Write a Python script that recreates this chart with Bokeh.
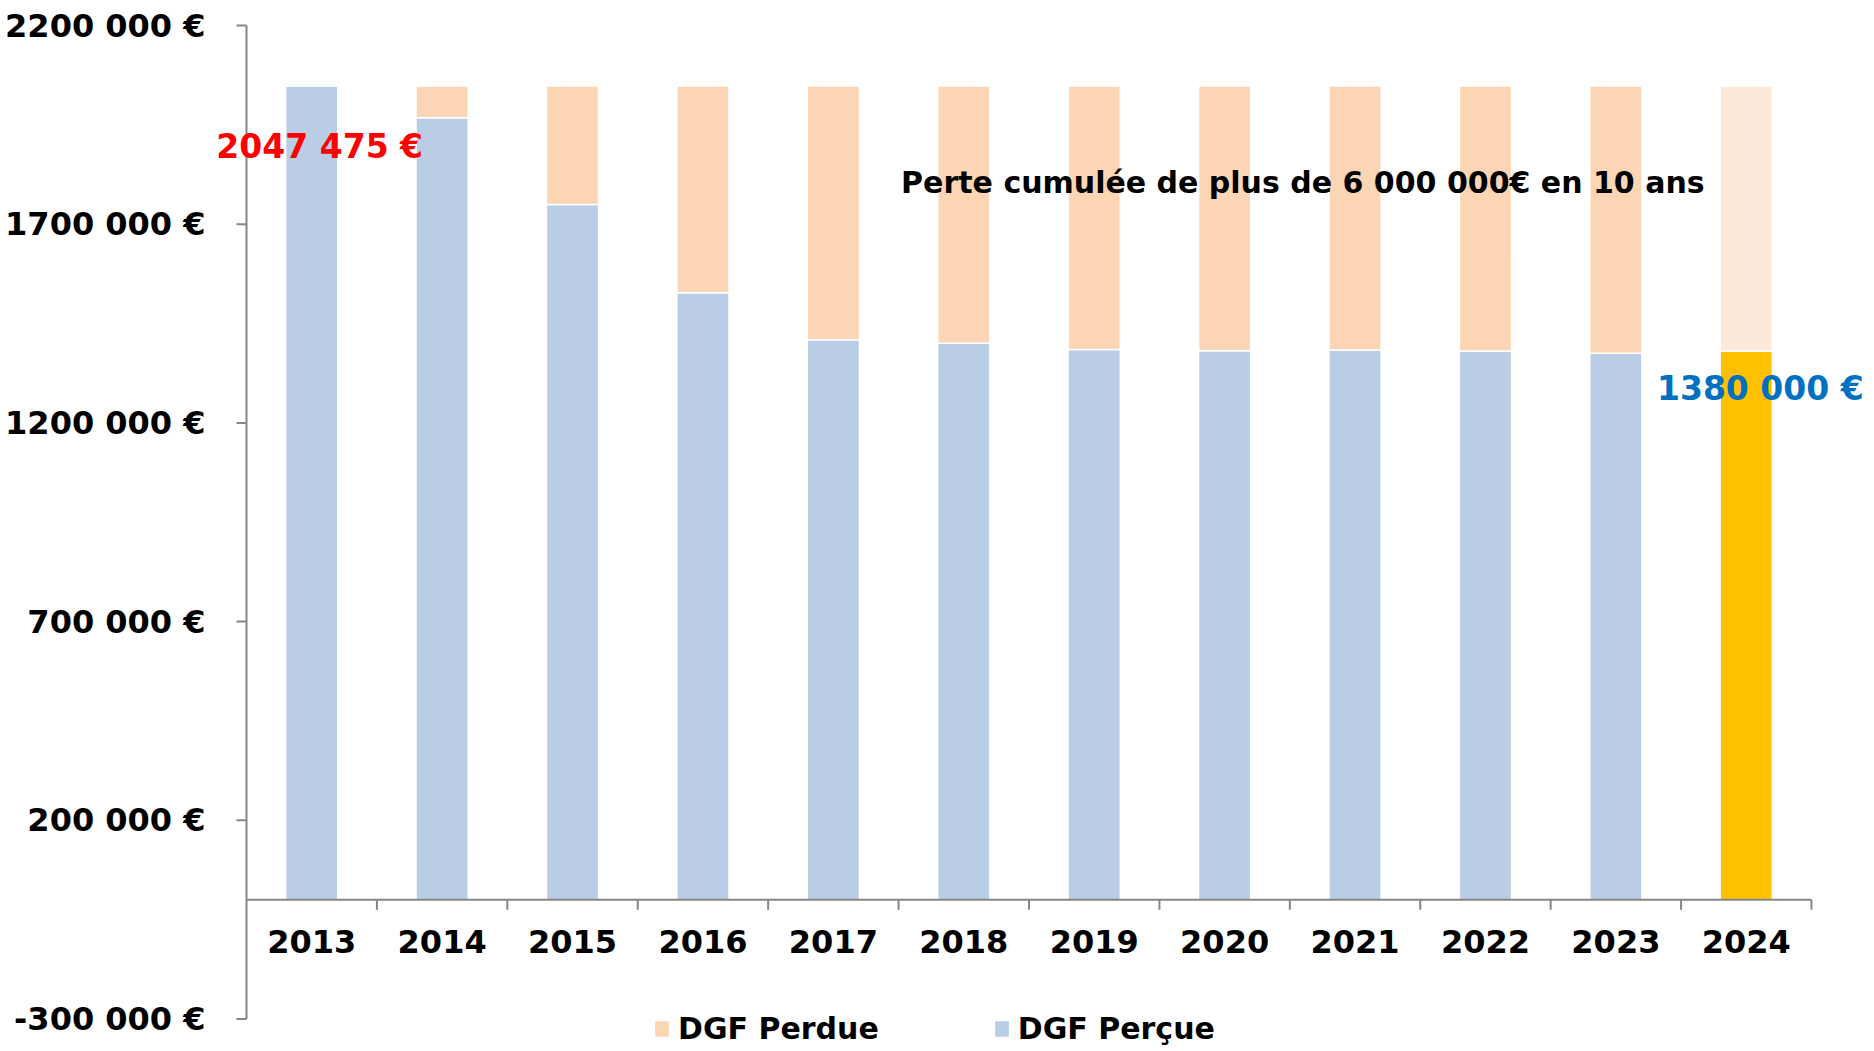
from bokeh.plotting import figure
from bokeh.models import (ColumnDataSource, Range1d, Legend, LegendItem)
from bokeh.embed import file_html
from bokeh.resources import INLINE
from bokeh.core.properties import value

# ---------------- data ----------------
years = ["2013", "2014", "2015", "2016", "2017", "2018",
         "2019", "2020", "2021", "2022", "2023", "2024"]
dgf_percue = [2047475, 1967600, 1749300, 1527800, 1409500, 1400200,
              1385000, 1381800, 1383500, 1381000, 1375000, 1380000]
dgf_perdue = [0, 79900, 298200, 519700, 638000, 647300,
              662500, 665700, 664000, 666500, 672500, 667500]
ytick_values = [-300000, 200000, 700000, 1200000, 1700000, 2200000]
ytick_labels = ["-300 000 €", "200 000 €", "700 000 €",
                "1200 000 €", "1700 000 €", "2200 000 €"]
label_start_value = 2047475
label_start_text = "2047 475 €"
label_end_value = 1380000
label_end_text = "1380 000 €"
annotation_text = "Perte cumulée de plus de 6 000 000€ en 10 ans"
annotation_pos = (8.1, 1805000)
legend_labels = ["DGF Perdue", "DGF Perçue"]

# ---------------- style ----------------
BLUE = "#B9CDE5"
PEACH = "#FCD5B5"
GOLD = "#FFC000"
LIGHT_PEACH = "#FDE9D9"
AXIS = "#868686"
FONT = "DejaVu Sans"

W, H = 1870, 1048
# pixel placement of the axes inside the canvas
X0_PX, X1_PX = 246.0, 1811.0          # x = 0 and x = 12
YTOP_PX, YBOT_PX = 25.0, 1018.5       # y = 2 200 000 and y = -300 000

n = len(years)
xs = [i + 0.5 for i in range(n)]
percue_colors = [BLUE] * (n - 1) + [GOLD]
perdue_colors = [PEACH] * (n - 1) + [LIGHT_PEACH]
totals = [a + b for a, b in zip(dgf_percue, dgf_perdue)]

px_per_x = (X1_PX - X0_PX) / n
px_per_y = (YBOT_PX - YTOP_PX) / (ytick_values[-1] - ytick_values[0])
x_start = -X0_PX / px_per_x
x_end = n + (W - X1_PX) / px_per_x
y_end = ytick_values[-1] + YTOP_PX / px_per_y
y_start = ytick_values[-1] - (H - YTOP_PX) / px_per_y

src = ColumnDataSource(dict(x=xs, year=years, percue=dgf_percue, total=totals,
                            pc=percue_colors, pd=perdue_colors))

p = figure(width=W, height=H,
           x_range=Range1d(x_start, x_end), y_range=Range1d(y_start, y_end),
           output_backend="svg", toolbar_location=None,
           x_axis_location=None, y_axis_location=None,
           min_border_left=0, min_border_right=0, min_border_top=0,
           min_border_bottom=0)
p.outline_line_color = None
p.grid.grid_line_color = None
p.background_fill_color = "white"

# ---- bars ----
r_percue = p.vbar(x="x", width=0.4, bottom=0, top="percue", fill_color="pc",
                  line_color="white", line_width=1.5, source=src)
r_perdue = p.vbar(x="x", width=0.4, bottom="percue", top="total", fill_color="pd",
                  line_color="white", line_width=1.5, source=src)

# ---- y axis (drawn at x = 0) ----
tick_dx = 10 / px_per_x
p.segment(x0=[0], x1=[0], y0=[ytick_values[0]], y1=[ytick_values[-1]],
          line_color=AXIS, line_width=2)
p.segment(x0=[-tick_dx] * len(ytick_values), x1=[0] * len(ytick_values),
          y0=ytick_values, y1=ytick_values, line_color=AXIS, line_width=2)
p.text(x=[0] * len(ytick_values), y=ytick_values, text=ytick_labels,
       x_offset=-41, text_align="right", text_baseline="middle",
       text_font=value(FONT), text_font_style="bold", text_font_size="32px",
       text_color="black")

# ---- x axis (drawn at y = 0) ----
p.segment(x0=[0], x1=[n], y0=[0], y1=[0], line_color=AXIS, line_width=2)
tick_dy = 10 / px_per_y
bounds_x = list(range(1, n + 1))
p.segment(x0=bounds_x, x1=bounds_x, y0=[0] * n, y1=[-tick_dy] * n,
          line_color=AXIS, line_width=2)
p.text(x="x", y=0, text="year", source=src, y_offset=42,
       text_align="center", text_baseline="middle",
       text_font=value(FONT), text_font_style="bold", text_font_size="32px",
       text_color="black")

# ---- value labels & annotation ----
p.text(x=[xs[0]], y=[label_start_value], text=[label_start_text],
       x_offset=8, y_offset=60, text_align="center", text_baseline="middle",
       text_font=value(FONT), text_font_style="bold", text_font_size="33px",
       text_color="#FF0000")
p.text(x=[xs[-1]], y=[label_end_value], text=[label_end_text],
       x_offset=14, y_offset=37, text_align="center", text_baseline="middle",
       text_font=value(FONT), text_font_style="bold", text_font_size="33px",
       text_color="#0070C0")
p.text(x=[annotation_pos[0]], y=[annotation_pos[1]], text=[annotation_text],
       text_align="center", text_baseline="middle",
       text_font=value(FONT), text_font_style="bold", text_font_size="30px",
       text_color="black")

# ---- legend ----
legend = Legend(items=[LegendItem(label=legend_labels[0], renderers=[r_perdue], index=0),
                       LegendItem(label=legend_labels[1], renderers=[r_percue], index=0)],
                orientation="horizontal", location=(652, 2),
                glyph_width=19, glyph_height=21, label_standoff=7, spacing=113,
                padding=0, margin=0, border_line_color=None,
                background_fill_alpha=0,
                label_text_font=FONT, label_text_font_style="bold",
                label_text_font_size="30px", label_text_color="black")
p.add_layout(legend)

open("out.html", "w").write(file_html(p, INLINE))
